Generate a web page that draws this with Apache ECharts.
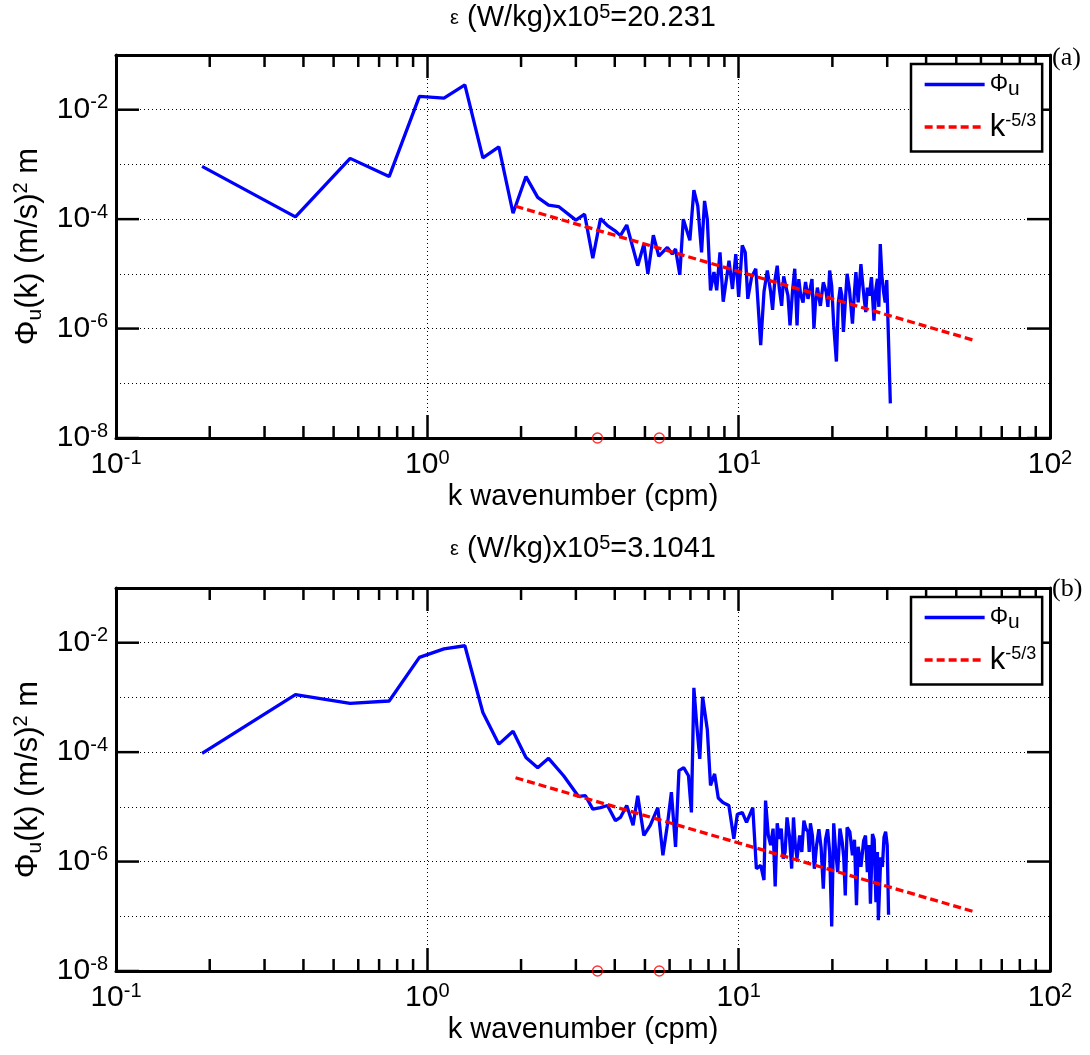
<!DOCTYPE html>
<html><head><meta charset="utf-8">
<script src="https://cdn.jsdelivr.net/npm/echarts@6/dist/echarts.min.js"></script>
<style>html,body{margin:0;padding:0;background:#fff}#c{width:1090px;height:1055px}</style>
</head><body><div id="c"></div>
<script>
// ---------- data ----------
const xRange = [0.1, 100];
const yRange = [1e-8, 1e-1];
const xMinorTicks = [0.2,0.3,0.4,0.5,0.6,0.7,0.8,0.9,2,3,4,5,6,7,8,9,20,30,40,50,60,70,80,90];
const yMajorTicks = [1e-8, 1e-6, 1e-4, 1e-2];
const epsA = '20.231';
const epsB = '3.1041';
const markK = [3.52, 5.56];

// panel (a): spectrum (k in cpm, Phi in (m/s)^2 m)
const specA_main = [[0.189,9.2e-4],[0.377,1.1e-4],[0.565,1.29e-3],[0.754,6.0e-4],[0.943,1.75e-2],[1.131,1.63e-2],[1.32,2.85e-2],
[1.508,1.32e-3],[1.697,2.1e-3],[1.885,1.28e-4],[2.074,6.0e-4],[2.262,2.5e-4],[2.451,1.8e-4],[2.64,1.7e-4],[3.0,9.6e-5],
[3.2,1.23e-4],[3.4,1.93e-5],[3.6,1.02e-4],[3.79,7.6e-5],[4.0,6.2e-5],[4.17,5.0e-5],[4.37,7.8e-5],[4.74,1.41e-5],[4.96,3.5e-5],
[5.11,1.0e-5],[5.32,5.1e-5],[5.54,2.1e-5],[5.9,3.05e-5],[6.12,2.3e-5],[6.27,2.85e-5],[6.47,9.6e-6],[6.64,1.0e-4],[6.97,4.1e-5],
[7.18,3.4e-4],[7.39,1.74e-4],[7.6,2.46e-5],[7.77,2.15e-4],[7.93,1.0e-4],[8.12,5.0e-6],[8.33,1.08e-5],[8.5,5.0e-6],[8.71,2.46e-5],
[8.92,3.1e-6],[9.31,1.74e-5],[9.55,5.3e-6],[9.79,2.3e-5],[10.0,3.8e-6],[10.27,3.3e-5],[10.5,2.46e-5],[10.7,3.5e-6],[11.0,8.7e-6],
[11.35,1.24e-5],[11.77,5.0e-7],[12.06,4.7e-6],[12.36,1.15e-5],[12.67,4.7e-6],[13.3,1.41e-5],[13.74,2.6e-6],[14.16,6.1e-6],
[14.62,1.14e-6],[15.14,1.24e-5],[15.4,1.14e-6],[15.8,4.3e-6],[16.4,7.1e-6],[17.0,5.6e-6],[17.45,1.0e-6],[17.9,5.6e-6],[18.3,2.6e-6],
[19.1,4.7e-6],[19.6,1.15e-5],[20.2,1.14e-6],[20.6,2.5e-7],[21.2,5.7e-6],[21.7,8.7e-7],[22.3,1.0e-5],[23.2,1.23e-6],[23.8,1.08e-5],
[24.7,1.5e-5],[25.3,3.5e-6],[25.9,5.6e-6],[26.7,8.7e-6],[27.2,1.4e-6],[27.9,8.1e-6],[28.5,3.5e-5],[29.2,4.7e-6],[29.9,7.7e-6],
[30.3,5.8e-7],[30.7,4.3e-8]];
// panel (a): extra wiggles of the dense high-k band
const specA_fine = [[12.85,2.2e-6],[13.05,7e-6],[13.5,5.5e-6],[13.95,9e-6],[14.4,4e-6],[14.9,5e-6],[15.6,8e-6],[16.1,3e-6],
[16.7,3.5e-6],[17.2,8e-6],[17.65,3e-6],[18.1,6e-6],[18.7,7e-6],[19.35,2.5e-6],[19.9,6e-6],[20.9,3e-6],[21.45,4e-6],[22.0,3e-6],
[22.7,5e-6],[23.5,4e-6],[24.2,3e-6],[25.0,7e-6],[25.6,2e-6],[26.3,4e-6],[27.55,5e-6],[28.2,2.5e-6],[28.85,9e-6],[29.55,3e-6]];

// panel (b)
const specB_main = [[0.189,9.5e-5],[0.377,1.13e-3],[0.565,7.8e-4],[0.754,8.6e-4],[0.943,5.4e-3],[1.131,7.7e-3],[1.32,8.8e-3],
[1.508,5.3e-4],[1.697,1.4e-4],[1.885,2.4e-4],[2.074,8.0e-5],[2.262,5.2e-5],[2.451,7.7e-5],[2.74,3.7e-5],[3.06,1.55e-5],
[3.22,1.6e-5],[3.4,9.1e-6],[3.6,9.7e-6],[3.79,1.06e-5],[4.02,5.6e-6],[4.17,6.4e-6],[4.37,1.06e-5],[4.58,4.6e-6],[4.74,1.6e-5],
[4.96,3.0e-6],[5.2,4.6e-6],[5.5,9.7e-6],[5.71,1.3e-6],[5.9,4.6e-6],[6.08,1.86e-5],[6.27,1.86e-6],[6.43,4.6e-5],[6.66,5.2e-5],
[6.9,3.7e-5],[7.05,7.9e-6],[7.18,1.5e-3],[7.34,3.0e-4],[7.5,7.5e-5],[7.66,1.03e-3],[7.93,2.6e-4],[8.12,2.46e-5],[8.37,4.0e-5],
[8.6,1.45e-5],[8.9,1.2e-5],[9.3,1.06e-5],[9.65,2.6e-6],[9.9,7.3e-6],[10.27,7.9e-6],[10.6,5.2e-6],[11.1,9.7e-6],[11.4,7.4e-7],
[11.77,8.5e-7],[12.06,4.6e-7],[12.2,1.3e-5],[12.67,2.0e-6],[13.1,3.5e-7],[13.5,2.6e-6],[13.9,1.13e-6],[14.3,6.4e-6],[14.8,7.4e-7],
[15.0,6.4e-6],[15.4,1.13e-6],[15.7,3.0e-6],[16.2,5.6e-6],[16.7,3.5e-6],[17.0,5.0e-6],[17.5,7.4e-7],[18.1,3.9e-6],[18.7,3.2e-7],
[19.3,3.9e-6],[19.9,6.5e-8],[20.2,5.0e-6],[20.8,6.4e-7],[21.5,2.3e-6],[22.0,2.4e-7],[22.3,4.2e-6],[23.2,1.3e-6],[23.9,1.6e-7],
[24.2,1.86e-6],[25.2,2.4e-6],[25.9,6.4e-7],[26.5,1.7e-7],[26.9,3.2e-6],[27.6,1.8e-7],[28.1,8.5e-8],[28.6,1.2e-6],[29.3,2.8e-6],
[30.0,2.0e-6],[30.3,1.07e-7]];
const specB_fine = [[12.45,3e-6],[12.9,4e-6],[13.3,5e-6],[13.7,4e-6],[14.1,1.5e-6],[14.55,3e-6],[15.2,2e-6],[15.95,1.5e-6],
[16.45,4e-6],[16.85,1.5e-6],[17.25,3e-6],[17.8,2e-6],[18.4,1.8e-6],[19.0,2.5e-6],[19.6,1.5e-6],[20.5,1.5e-6],[21.15,4e-6],
[21.75,1.2e-6],[22.75,3.5e-6],[23.55,2.5e-6],[24.7,8e-7],[25.55,3e-6],[26.2,2e-6],[27.25,2.5e-6],[27.9,1.5e-6],[28.95,8e-7],
[29.65,3.5e-6]];

const fitA = [[1.92, 1.72e-4], [56.5, 6.2e-7]];
const fitB = [[1.92, 3.4e-5], [56.5, 1.23e-7]];

const byK = (a, b) => a[0] - b[0];
const specA = specA_main.concat(specA_fine).sort(byK);
const specB = specB_main.concat(specB_fine).sort(byK);

// ---------- styling ----------
const SANS = '"Liberation Sans", Arial, Helvetica, sans-serif';
const NARROW = '"Liberation Sans Narrow", "Liberation Sans", Arial, sans-serif';
const SERIF = '"Liberation Serif", "Times New Roman", serif';
const BLUE = '#0000ff', RED = '#ff0000';

const tickRich = {
  b: {fontSize: 30, fontFamily: NARROW, lineHeight: 34, color: '#000'},
  s: {fontSize: 20, fontFamily: NARROW, lineHeight: 18, verticalAlign: 'top', color: '#000'}
};
function powLabel(v) { const e = Math.round(Math.log10(v)); return '{b|10}{s|' + e + '}'; }

const grids = [
  {left: 116, top: 55, width: 934, height: 383, outerBoundsMode: 'none'},
  {left: 116, top: 588, width: 934, height: 383, outerBoundsMode: 'none'}
];

const xAxes = [], yAxes = [];
grids.forEach((g, i) => {
  xAxes.push({
    type: 'log', logBase: 10, gridIndex: i, position: 'bottom', min: xRange[0], max: xRange[1],
    axisLine: {show: true, onZero: false, lineStyle: {color: '#000', width: 3}},
    axisTick: {show: true, inside: true, length: 23, lineStyle: {color: '#000', width: 2.5}},
    axisLabel: {show: true, margin: 10, formatter: powLabel, rich: tickRich, color: '#000', showMinLabel: true, showMaxLabel: true},
    splitLine: {show: true, lineStyle: {color: '#000', width: 1, type: [1, 3]}},
    minorTick: {show: false}, minorSplitLine: {show: false},
    name: 'k wavenumber (cpm)', nameLocation: 'middle', nameGap: 43,
    nameTextStyle: {fontSize: 29, fontFamily: SANS, color: '#000', lineHeight: 32}
  });
  xAxes.push({
    type: 'log', logBase: 10, gridIndex: i, position: 'top', min: xRange[0], max: xRange[1],
    axisLine: {show: true, onZero: false, lineStyle: {color: '#000', width: 3}},
    axisTick: {show: true, inside: true, length: 23, lineStyle: {color: '#000', width: 2.5}},
    axisLabel: {show: false}, splitLine: {show: false}
  });
  yAxes.push({
    type: 'log', logBase: 10, gridIndex: i, position: 'left', min: yRange[0], max: yRange[1],
    axisLine: {show: true, onZero: false, lineStyle: {color: '#000', width: 3}},
    axisTick: {show: false},
    axisLabel: {show: true, margin: 8, color: '#000', rich: tickRich,
      formatter: v => (Math.round(Math.log10(v)) % 2 === 0 ? powLabel(v) : '')},
    splitLine: {show: true, lineStyle: {color: '#000', width: 1, type: [1, 3]}},
    name: '{a|Φ}{sub|u}{a|(k) (m/s)}{sup|2}{a| m}', nameLocation: 'middle', nameGap: 66, nameRotate: 90,
    nameTextStyle: {color: '#000', rich: {
      a: {fontSize: 31, fontFamily: SANS, lineHeight: 34, color: '#000'},
      sub: {fontSize: 21, fontFamily: SANS, lineHeight: 16, verticalAlign: 'bottom', color: '#000'},
      sup: {fontSize: 20, fontFamily: SANS, lineHeight: 18, verticalAlign: 'top', color: '#000'}
    }}
  });
  yAxes.push({
    type: 'log', logBase: 10, gridIndex: i, position: 'right', min: yRange[0], max: yRange[1],
    axisLine: {show: true, onZero: false, lineStyle: {color: '#000', width: 3}},
    axisTick: {show: false}, axisLabel: {show: false}, splitLine: {show: false}
  });
});

function xMinorSeries(i) {
  return {
    type: 'custom', xAxisIndex: 2 * i, yAxisIndex: 2 * i, silent: true, z: 3, clip: false,
    data: xMinorTicks.map(v => [v, yRange[0]]),
    renderItem: (params, api) => {
      const v = api.value(0);
      const b = api.coord([v, yRange[0]]);
      const t = api.coord([v, yRange[1]]);
      const st = {stroke: '#000', lineWidth: 2.5};
      return {type: 'group', children: [
        {type: 'line', shape: {x1: b[0], y1: b[1], x2: b[0], y2: b[1] - 12}, style: st},
        {type: 'line', shape: {x1: t[0], y1: t[1], x2: t[0], y2: t[1] + 12}, style: st}
      ]};
    }
  };
}
function yMajorSeries(i) {
  return {
    type: 'custom', xAxisIndex: 2 * i, yAxisIndex: 2 * i, silent: true, z: 3, clip: false,
    data: yMajorTicks.map(v => [xRange[0], v]),
    renderItem: (params, api) => {
      const v = api.value(1);
      const l = api.coord([xRange[0], v]);
      const r = api.coord([xRange[1], v]);
      const st = {stroke: '#000', lineWidth: 2.5};
      return {type: 'group', children: [
        {type: 'line', shape: {x1: l[0], y1: l[1], x2: l[0] + 23, y2: l[1]}, style: st},
        {type: 'line', shape: {x1: r[0], y1: r[1], x2: r[0] - 23, y2: r[1]}, style: st}
      ]};
    }
  };
}

const series = [];
[[specA, fitA], [specB, fitB]].forEach(([spec, fit], i) => {
  series.push({name: 'phi', type: 'line', xAxisIndex: 2 * i, yAxisIndex: 2 * i, data: spec, symbol: 'none',
    lineStyle: {color: BLUE, width: 3.3}, itemStyle: {color: BLUE}, z: 4});
  series.push({name: 'fit', type: 'line', xAxisIndex: 2 * i, yAxisIndex: 2 * i, data: fit, symbol: 'none',
    lineStyle: {color: RED, width: 3.3, type: [8, 4]}, itemStyle: {color: RED}, z: 5});
  series.push({type: 'scatter', xAxisIndex: 2 * i, yAxisIndex: 2 * i, data: markK.map(k => [k, yRange[0]]),
    symbol: 'circle', symbolSize: 10, clip: false, silent: true, z: 6,
    itemStyle: {color: 'rgba(0,0,0,0)', borderColor: RED, borderWidth: 1.3}});
  series.push(xMinorSeries(i));
  series.push(yMajorSeries(i));
});

const legendRich = {
  phi: {fontSize: 23, fontFamily: SANS, lineHeight: 30, color: '#000'},
  sub: {fontSize: 21, fontFamily: SANS, lineHeight: 14, verticalAlign: 'bottom', color: '#000'},
  k: {fontSize: 31, fontFamily: SANS, lineHeight: 30, color: '#000'},
  sup: {fontSize: 18, fontFamily: SANS, lineHeight: 14, verticalAlign: 'top', color: '#000'}
};
function makeLegend(top) {
  return {
    show: true, orient: 'vertical', left: 911, top: top, selectedMode: false,
    data: ['phi', 'fit'], itemWidth: 60, itemHeight: 14, itemGap: 12,
    padding: [9, 6, 9, 12], borderColor: '#000', borderWidth: 2.5, backgroundColor: '#fff', borderRadius: 0,
    itemStyle: {opacity: 0, borderWidth: 0},
    lineStyle: {width: 3.3},
    formatter: n => (n === 'phi' ? '{phi|Φ}{sub|u}' : '{k|k}{sup|-5/3}'),
    textStyle: {color: '#000', rich: legendRich}, z: 10
  };
}

const titleRich = {
  e: {fontSize: 20, fontFamily: SANS, lineHeight: 32, color: '#000'},
  a: {fontSize: 29, fontFamily: SANS, lineHeight: 32, color: '#000'},
  s: {fontSize: 20, fontFamily: SANS, lineHeight: 20, verticalAlign: 'top', color: '#000'}
};
function makeTitle(eps, top) {
  return {text: '{e|ε}{a| (W/kg)x10}{s|5}{a|=' + eps + '}', left: 583, top: top, textAlign: 'center', padding: 0,
    textStyle: {rich: titleRich, fontWeight: 'normal'}};
}
function makeTag(t, top) {
  return {text: t, left: 1052, top: top, padding: 0,
    textStyle: {fontFamily: SERIF, fontSize: 26, fontWeight: 'normal', color: '#000', lineHeight: 30}};
}

const chart = echarts.init(document.getElementById('c'), null, {renderer: 'canvas'});
chart.setOption({
  animation: false,
  backgroundColor: '#fff',
  title: [makeTitle(epsA, 2), makeTag('(a)', 43), makeTitle(epsB, 533), makeTag('(b)', 574)],
  legend: [makeLegend(64), makeLegend(597)],
  tooltip: {show: false},
  grid: grids,
  xAxis: xAxes,
  yAxis: yAxes,
  series: series
});
</script></body></html>
